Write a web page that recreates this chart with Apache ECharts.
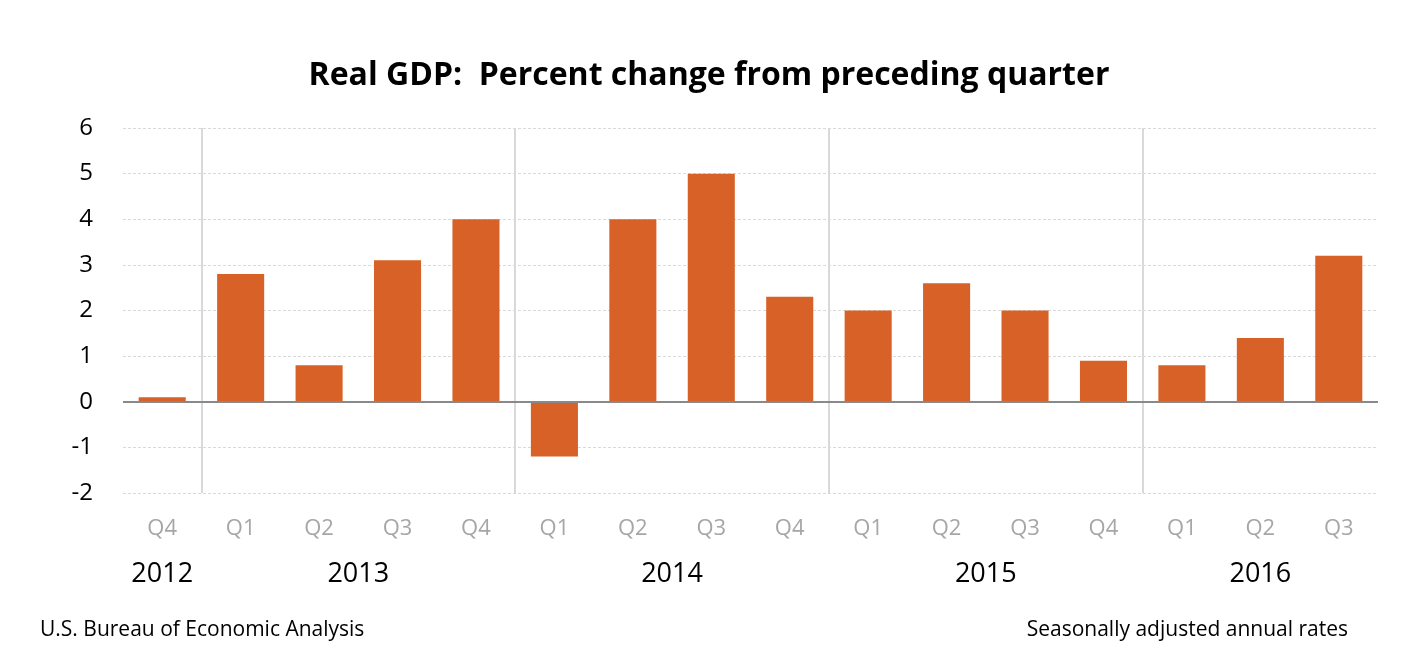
<!DOCTYPE html>
<html><head><meta charset="utf-8">
<script src="https://cdn.jsdelivr.net/npm/echarts@6/dist/echarts.min.js"></script>
<style>html,body{margin:0;padding:0;background:#fff}#c{width:1418px;height:662px}</style>
</head><body><div id="c"></div>
<script>
const quarters = ['Q4','Q1','Q2','Q3','Q4','Q1','Q2','Q3','Q4','Q1','Q2','Q3','Q4','Q1','Q2','Q3'];
const gdpChange = [0.1, 2.8, 0.8, 3.1, 4.0, -1.2, 4.0, 5.0, 2.3, 2.0, 2.6, 2.0, 0.9, 0.8, 1.4, 3.2];
const years = ['2012','2013','2014','2015','2016'];
// year label slots on a 33-point half-band axis (group centers) and boundary slots
const yearSlots = [1, 6, 14, 22, 29];
const boundarySlots = [2, 10, 18, 26];
const yTicks = { min: -2, max: 6, interval: 1 };

const halfSlots = [];
for (let k = 0; k <= 32; k++) {
  const yi = yearSlots.indexOf(k);
  halfSlots.push(yi >= 0 ? years[yi] : ('s' + k));
}
const FONT = '"Open Sans", sans-serif';
const chart = echarts.init(document.getElementById('c'));
chart.setOption({
  animation: false,
  backgroundColor: '#fff',
  title: [
    { text: 'Real GDP:  Percent change from preceding quarter', left: 'center', top: 55,
      textStyle: { fontFamily: FONT, fontSize: 32, fontWeight: 'bold', color: '#000' } },
    { text: 'U.S. Bureau of Economic Analysis', left: 35, top: 615,
      textStyle: { fontFamily: FONT, fontSize: 21, fontWeight: 'normal', color: '#000' } },
    { text: 'Seasonally adjusted annual rates', right: 65, top: 615,
      textStyle: { fontFamily: FONT, fontSize: 21, fontWeight: 'normal', color: '#000' } }
  ],
  grid: { left: 123, right: 40, top: 128, bottom: 169, containLabel: false },
  xAxis: [
    { type: 'category', data: quarters, boundaryGap: true, position: 'bottom',
      axisLine: { show: false }, axisTick: { show: false },
      axisLabel: { interval: 0, color: '#a6a6a6', fontFamily: FONT, fontSize: 22, margin: 25 },
      splitLine: { show: false } },
    { type: 'category', data: halfSlots, boundaryGap: false, position: 'bottom',
      axisLine: { show: false }, axisTick: { show: false },
      axisLabel: { interval: 0, color: '#000', fontFamily: FONT, fontSize: 27, margin: 68,
        formatter: v => (years.indexOf(v) >= 0 ? v : '') },
      splitLine: { show: true, interval: (i) => boundarySlots.indexOf(i) >= 0,
        lineStyle: { color: '#d9d9d9', width: 2, type: 'solid' } } }
  ],
  yAxis: {
    type: 'value', min: yTicks.min, max: yTicks.max, interval: yTicks.interval,
    axisLine: { show: false }, axisTick: { show: false },
    axisLabel: { color: '#000', fontFamily: FONT, fontSize: 24, margin: 30 },
    splitLine: { show: true, lineStyle: { color: '#d9d9d9', type: [3, 2], width: 1 } }
  },
  series: [{
    type: 'bar', data: gdpChange, xAxisIndex: 0, barWidth: '60%',
    itemStyle: { color: '#d86127' },
    markLine: { silent: true, symbol: 'none', label: { show: false },
      lineStyle: { color: '#898989', width: 2, type: 'solid' },
      data: [{ yAxis: 0 }] }
  }]
});
</script></body></html>
